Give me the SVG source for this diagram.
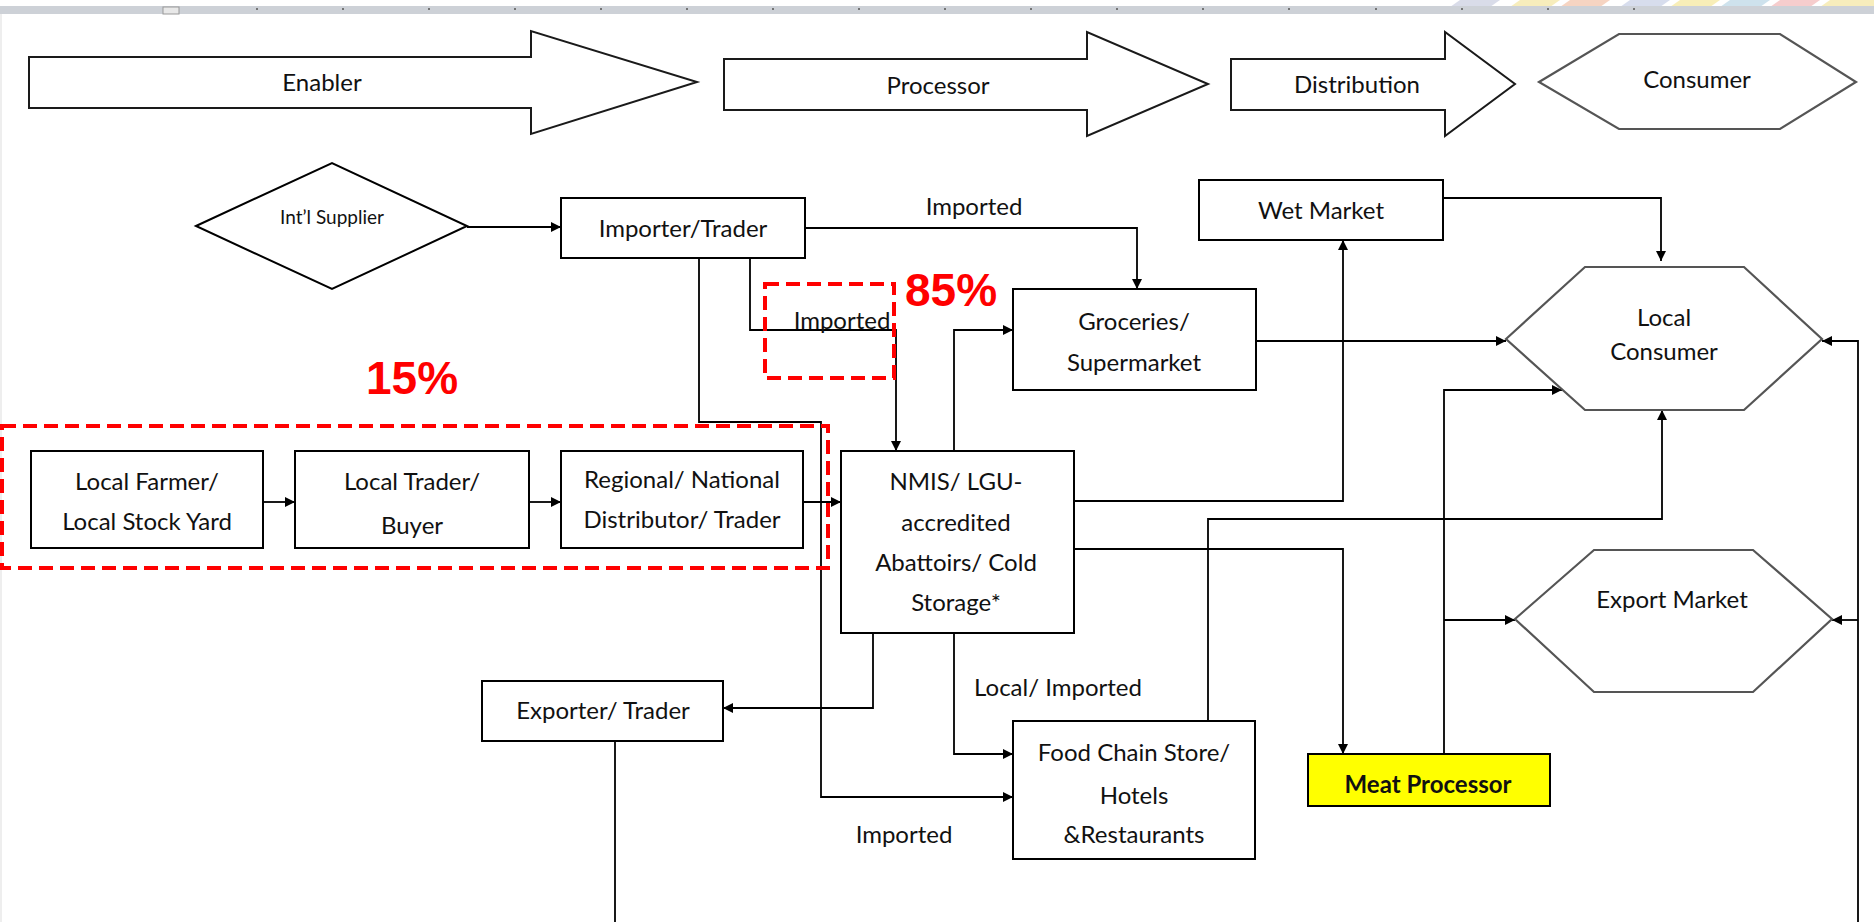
<svg xmlns="http://www.w3.org/2000/svg" width="1874" height="922" viewBox="0 0 1874 922">
  <defs>
    <marker id="ah" markerWidth="10" markerHeight="10" refX="10" refY="5" orient="auto" markerUnits="userSpaceOnUse">
      <path d="M0,0 L10,5 L0,10 Z" fill="#000"/>
    </marker>
  </defs>
  <style>
    .box { fill: #fff; stroke: #000; stroke-width: 2; }
    .blk { fill: #fff; stroke: #1a1a1a; stroke-width: 2; }
    .hex { fill: #fff; stroke: #555; stroke-width: 2.2; }
    .t { font-family: Lato, "Open Sans", sans-serif; font-size: 24px; fill: #111; text-anchor: middle; }
    .ts { font-family: Lato, "Open Sans", sans-serif; font-size: 19px; fill: #111; text-anchor: middle; }
    .pct { font-family: "Liberation Sans", Arial, sans-serif; font-size: 46px; font-weight: bold; fill: #ff0000; }
    .con { fill: none; stroke: #000; stroke-width: 1.8; }
    .arr { marker-end: url(#ah); }
    .dash { fill: none; stroke: #ff0000; stroke-width: 4; stroke-dasharray: 14 7; }
    .tick { stroke: #555; stroke-width: 1.5; }
  </style>
  <rect width="1874" height="922" fill="#fff"/>
  <g id="chrome">
    <polygon points="1460,0 1500,0 1490,7 1450,7" fill="#c9cde0" opacity="0.7"/>
    <polygon points="1520,0 1560,0 1550,7 1510,7" fill="#f3e6a0" opacity="0.7"/>
    <polygon points="1570,0 1610,0 1600,7 1560,7" fill="#f2c2a8" opacity="0.7"/>
    <polygon points="1630,0 1670,0 1660,7 1620,7" fill="#c6cfe6" opacity="0.7"/>
    <polygon points="1680,0 1720,0 1710,7 1670,7" fill="#f5e79a" opacity="0.7"/>
    <polygon points="1730,0 1770,0 1760,7 1720,7" fill="#b9d6e6" opacity="0.7"/>
    <polygon points="1780,0 1820,0 1810,7 1770,7" fill="#f2b8b8" opacity="0.7"/>
    <polygon points="1830,0 1874,0 1874,7 1820,7" fill="#f4e6a0" opacity="0.7"/>
    <rect x="0" y="6" width="1874" height="8" fill="#cdd1d7"/>
    <rect x="163" y="7" width="16" height="7" fill="#e8e8e8" stroke="#999" stroke-width="1"/>
    <g class="tick">
      <line x1="257" y1="8" x2="257" y2="10"/><line x1="343" y1="8" x2="343" y2="10"/><line x1="429" y1="8" x2="429" y2="10"/>
      <line x1="515" y1="8" x2="515" y2="10"/><line x1="601" y1="8" x2="601" y2="10"/><line x1="687" y1="8" x2="687" y2="10"/>
      <line x1="773" y1="8" x2="773" y2="10"/><line x1="859" y1="8" x2="859" y2="10"/><line x1="945" y1="8" x2="945" y2="10"/>
      <line x1="1031" y1="8" x2="1031" y2="10"/><line x1="1117" y1="8" x2="1117" y2="10"/><line x1="1203" y1="8" x2="1203" y2="10"/>
      <line x1="1289" y1="8" x2="1289" y2="10"/><line x1="1376" y1="8" x2="1376" y2="10"/><line x1="1462" y1="8" x2="1462" y2="10"/>
      <line x1="1548" y1="8" x2="1548" y2="10"/><line x1="1634" y1="8" x2="1634" y2="10"/>
    </g>
    <line x1="1" y1="14" x2="1" y2="922" stroke="#ddd" stroke-width="1"/>
  </g>

  <g id="stage-enabler">
    <polygon class="blk" points="29,57 531,57 531,31 697,82 531,134 531,108 29,108"/>
    <text class="t" x="322" y="91">Enabler</text>
  </g>
  <g id="stage-processor">
    <polygon class="blk" points="724,59 1087,59 1087,32 1208,84 1087,136 1087,110 724,110"/>
    <text class="t" x="938" y="94">Processor</text>
  </g>
  <g id="stage-distribution">
    <polygon class="blk" points="1231,59 1445,59 1445,32 1515,84 1445,136 1445,110 1231,110"/>
    <text class="t" x="1357" y="93">Distribution</text>
  </g>
  <g id="stage-consumer">
    <polygon class="hex" points="1539,82 1619,34 1780,34 1856,82 1780,129 1619,129"/>
    <text class="t" x="1697" y="88">Consumer</text>
  </g>

  <g id="connectors">
    <path class="con arr" d="M467,227 L561,227"/>
    <path class="con arr" d="M805,228 L1137,228 L1137,289"/>
    <path class="con arr" d="M699,258 L699,422 L821,422 L821,797 L1013,797"/>
    <path class="con arr" d="M750,258 L750,330 L896,330 L896,451"/>
    <path class="con arr" d="M263,502 L295,502"/>
    <path class="con arr" d="M529,502 L561,502"/>
    <path class="con arr" d="M803,502 L841,502"/>
    <path class="con arr" d="M954,451 L954,330 L1013,330"/>
    <path class="con arr" d="M1256,341 L1506,341"/>
    <path class="con arr" d="M1074,501 L1343,501 L1343,240"/>
    <path class="con arr" d="M1443,198 L1661,198 L1661,261"/>
    <path class="con arr" d="M1074,549 L1343,549 L1343,754"/>
    <path class="con arr" d="M1444,754 L1444,390 L1562,390"/>
    <path class="con arr" d="M1444,620 L1515,620"/>
    <path class="con arr" d="M1208,721 L1208,519 L1662,519 L1662,410"/>
    <path class="con arr" d="M1858,922 L1858,341 L1822,341"/>
    <path class="con arr" d="M1858,620 L1832,620"/>
    <path class="con arr" d="M873,633 L873,708 L723,708"/>
    <path class="con arr" d="M954,633 L954,754 L1013,754"/>
    <path class="con" d="M615,741 L615,922"/>
  </g>

  <g id="labels">
    <text class="t" x="974" y="215">Imported</text>
    <text class="t" x="842" y="329">Imported</text>
    <text class="t" x="1058" y="696">Local/ Imported</text>
    <text class="t" x="904" y="843">Imported</text>
    <text class="pct" x="905" y="306">85%</text>
    <text class="pct" x="366" y="394">15%</text>
  </g>

  <g id="intl-supplier">
    <polygon class="box" points="196,226 332,163 467,226 332,289" stroke="#222"/>
    <text class="ts" x="332" y="224">Int’l Supplier</text>
  </g>
  <g id="importer-trader">
    <rect class="box" x="561" y="198" width="244" height="60"/>
    <text class="t" x="683" y="237">Importer/Trader</text>
  </g>
  <g id="wet-market">
    <rect class="box" x="1199" y="180" width="244" height="60"/>
    <text class="t" x="1321" y="219">Wet Market</text>
  </g>
  <g id="groceries">
    <rect class="box" x="1013" y="289" width="243" height="101"/>
    <text class="t" x="1134" y="330">Groceries/</text>
    <text class="t" x="1134" y="371">Supermarket</text>
  </g>
  <g id="local-consumer">
    <polygon class="hex" points="1506,339 1585,267 1744,267 1822,339 1744,410 1585,410"/>
    <text class="t" x="1664" y="326">Local</text>
    <text class="t" x="1664" y="360">Consumer</text>
  </g>
  <g id="local-farmer">
    <rect class="box" x="31" y="451" width="232" height="97"/>
    <text class="t" x="147" y="490">Local Farmer/</text>
    <text class="t" x="147" y="530">Local Stock Yard</text>
  </g>
  <g id="local-trader">
    <rect class="box" x="295" y="451" width="234" height="97"/>
    <text class="t" x="412" y="490">Local Trader/</text>
    <text class="t" x="412" y="534">Buyer</text>
  </g>
  <g id="regional-distributor">
    <rect class="box" x="561" y="451" width="242" height="97"/>
    <text class="t" x="682" y="488">Regional/ National</text>
    <text class="t" x="682" y="528">Distributor/ Trader</text>
  </g>
  <g id="nmis">
    <rect class="box" x="841" y="451" width="233" height="182"/>
    <text class="t" x="956" y="490">NMIS/ LGU-</text>
    <text class="t" x="956" y="531">accredited</text>
    <text class="t" x="956" y="571">Abattoirs/ Cold</text>
    <text class="t" x="956" y="611">Storage*</text>
  </g>
  <g id="export-market">
    <polygon class="hex" points="1515,619 1594,550 1753,550 1832,619 1753,692 1594,692"/>
    <text class="t" x="1672" y="608">Export Market</text>
  </g>
  <g id="exporter-trader">
    <rect class="box" x="482" y="681" width="241" height="60"/>
    <text class="t" x="603" y="719">Exporter/ Trader</text>
  </g>
  <g id="food-chain">
    <rect class="box" x="1013" y="721" width="242" height="138"/>
    <text class="t" x="1134" y="761">Food Chain Store/</text>
    <text class="t" x="1134" y="804">Hotels</text>
    <text class="t" x="1134" y="843">&amp;Restaurants</text>
  </g>
  <g id="meat-processor">
    <rect x="1308" y="754" width="242" height="52" fill="#ffff00" stroke="#000" stroke-width="2"/>
    <text class="t" x="1428" y="793" font-weight="bold">Meat Processor</text>
  </g>

  <g id="highlights">
    <rect class="dash" x="2" y="426" width="826" height="142"/>
    <rect class="dash" x="765" y="284" width="129" height="94"/>
  </g>
</svg>
